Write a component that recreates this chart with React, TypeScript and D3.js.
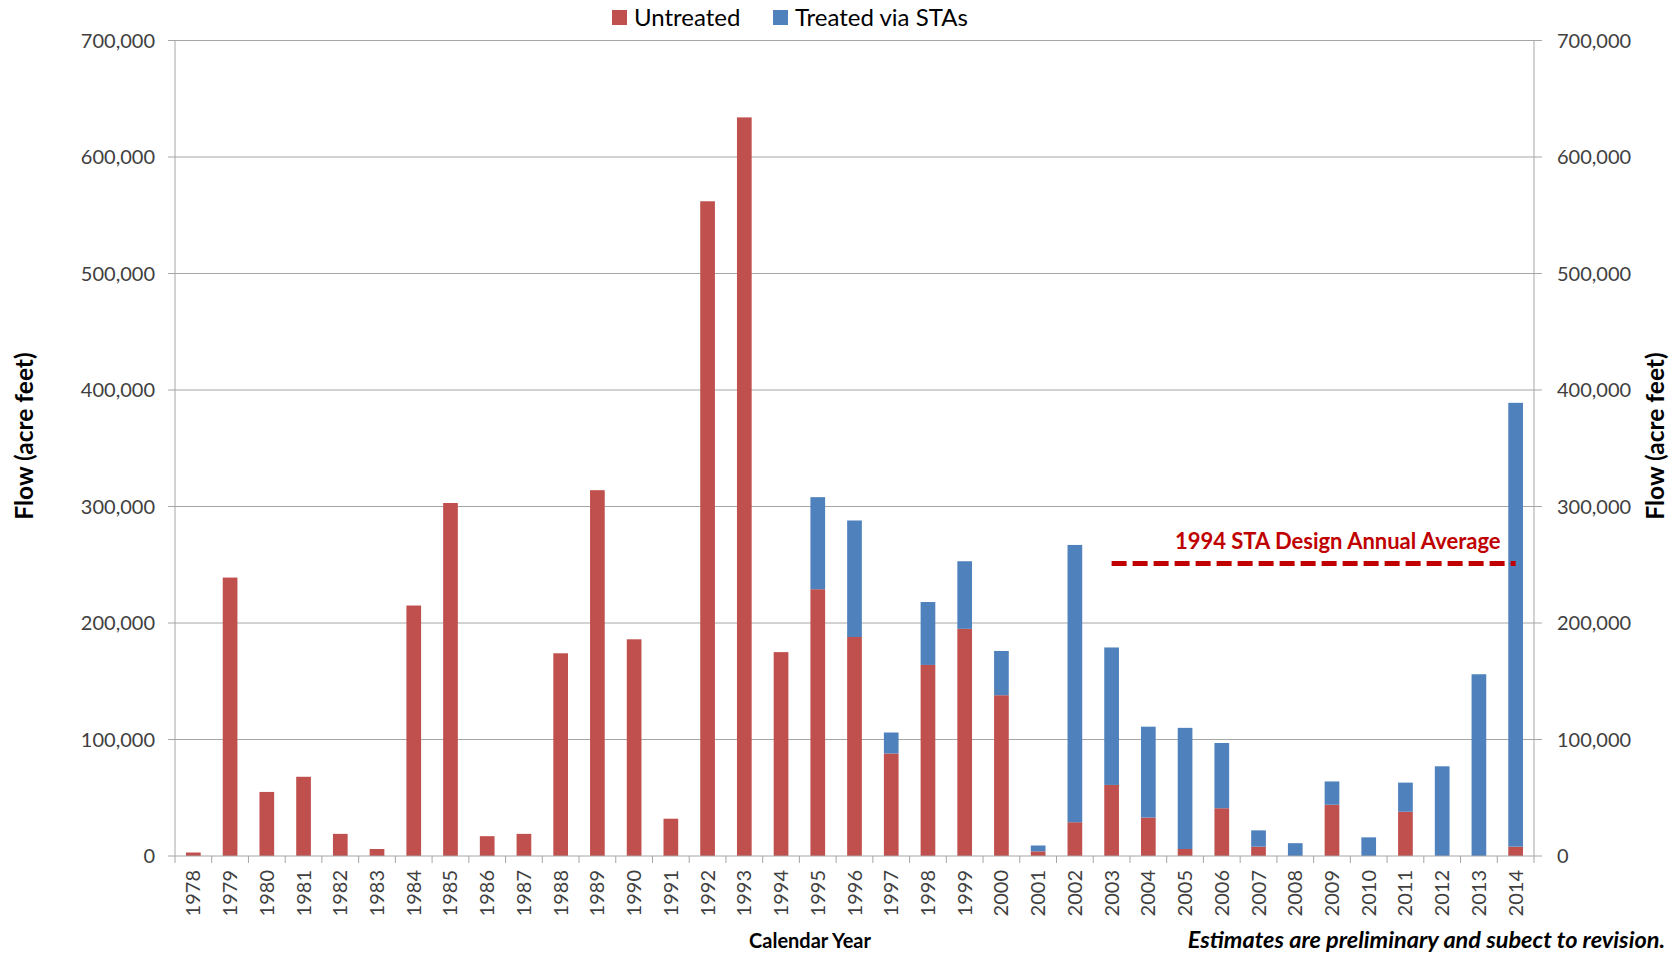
import React, { useEffect, useRef } from 'react';
import * as d3 from 'd3';

const years = [
  '1978', '1979', '1980', '1981', '1982', '1983', '1984', '1985', '1986', '1987',
  '1988', '1989', '1990', '1991', '1992', '1993', '1994', '1995', '1996', '1997',
  '1998', '1999', '2000', '2001', '2002', '2003', '2004', '2005', '2006', '2007',
  '2008', '2009', '2010', '2011', '2012', '2013', '2014',
];
const untreated = [
  3000, 239000, 55000, 68000, 19000, 6000, 215000, 303000, 17000, 19000,
  174000, 314000, 186000, 32000, 562000, 634000, 175000, 229000, 188000, 88000,
  164000, 195000, 138000, 4000, 29000, 61000, 33000, 6000, 41000, 8000,
  0, 44000, 0, 38000, 0, 0, 8000,
];
const treated = [
  0, 0, 0, 0, 0, 0, 0, 0, 0, 0,
  0, 0, 0, 0, 0, 0, 0, 79000, 100000, 18000,
  54000, 58000, 38000, 5000, 238000, 118000, 78000, 104000, 56000, 14000,
  11000, 20000, 16000, 25000, 77000, 156000, 381000,
];
const yTicks = [0, 100000, 200000, 300000, 400000, 500000, 600000, 700000];
const designAverage = 251000;
const designYears = ['2003', '2014'];
const seriesNames = ['Untreated', 'Treated via STAs'];
const colors = ['#c0504d', '#4f81bd'];

const App = () => {
  const svgRef: any = useRef();

  useEffect(() => {
    document.body.style.margin = '0';
    const width = 1673;
    const height = 956;
    const left = 175;
    const right = 1534;
    const font = 'Lato, "Open Sans", sans-serif';

    const svg = d3.select(svgRef.current).attr('width', width).attr('height', height);
    svg.selectAll('*').remove();

    const x = d3.scaleBand().domain(years).range([left, right]).paddingInner(0.6).paddingOuter(0.3);
    const y = d3.scaleLinear().domain([0, 700000]).range([856, 40.5]);
    const step = x.step();

    // gridlines
    svg.append('g')
      .selectAll('line')
      .data(yTicks.slice(1))
      .join('line')
      .attr('x1', left).attr('x2', right)
      .attr('y1', (d) => y(d)).attr('y2', (d) => y(d))
      .attr('stroke', '#a6a6a6').attr('stroke-width', 1);

    // stacked bars
    const data = years.map((yr, i) => ({ year: yr, untreated: untreated[i], treated: treated[i] }));
    const stack = d3.stack<any>().keys(['untreated', 'treated'])(data);
    svg.append('g')
      .selectAll('g')
      .data(stack)
      .join('g')
      .attr('fill', (_d, i) => colors[i])
      .selectAll('rect')
      .data((d) => d)
      .join('rect')
      .attr('x', (d: any) => x(d.data.year) as number)
      .attr('width', x.bandwidth())
      .attr('y', (d) => y(d[1]))
      .attr('height', (d) => y(d[0]) - y(d[1]));

    // axes lines
    svg.append('line').attr('x1', left).attr('x2', left).attr('y1', y(700000)).attr('y2', y(0))
      .attr('stroke', '#a6a6a6');
    svg.append('line').attr('x1', right).attr('x2', right).attr('y1', y(700000)).attr('y2', y(0))
      .attr('stroke', '#a6a6a6');
    svg.append('line').attr('x1', left).attr('x2', right).attr('y1', y(0)).attr('y2', y(0))
      .attr('stroke', '#a6a6a6');

    const fmt = d3.format(',');
    // left axis
    const la = svg.append('g');
    la.selectAll('line').data(yTicks).join('line')
      .attr('x1', left - 7).attr('x2', left).attr('y1', (d) => y(d)).attr('y2', (d) => y(d))
      .attr('stroke', '#a6a6a6');
    la.selectAll('text').data(yTicks).join('text')
      .attr('x', 155).attr('y', (d) => y(d)).attr('dy', '0.35em')
      .attr('text-anchor', 'end').attr('font-family', font).attr('font-size', 20).attr('fill', '#404040')
      .text((d) => fmt(d));
    // right axis
    const ra = svg.append('g');
    ra.selectAll('line').data(yTicks).join('line')
      .attr('x1', right).attr('x2', right + 8).attr('y1', (d) => y(d)).attr('y2', (d) => y(d))
      .attr('stroke', '#a6a6a6');
    ra.selectAll('text').data(yTicks).join('text')
      .attr('x', 1557).attr('y', (d) => y(d)).attr('dy', '0.35em')
      .attr('text-anchor', 'start').attr('font-family', font).attr('font-size', 20).attr('fill', '#404040')
      .text((d) => fmt(d));

    // category ticks
    const bounds = d3.range(years.length + 1).map((i) => left + i * step);
    svg.append('g').selectAll('line').data(bounds).join('line')
      .attr('x1', (d) => d).attr('x2', (d) => d).attr('y1', y(0)).attr('y2', y(0) + 7)
      .attr('stroke', '#a6a6a6');
    svg.append('g').selectAll('text').data(years).join('text')
      .attr('transform', (d) => `translate(${(x(d) as number) + x.bandwidth() / 2 + 7},870) rotate(-90)`)
      .attr('text-anchor', 'end').attr('font-family', font).attr('font-size', 20).attr('fill', '#404040')
      .text((d) => d);

    // design average line
    const dx1 = (x(designYears[0]) as number) + x.bandwidth() / 2;
    const dx2 = (x(designYears[1]) as number) + x.bandwidth() / 2;
    svg.append('line')
      .attr('x1', dx1).attr('x2', dx2).attr('y1', y(designAverage)).attr('y2', y(designAverage))
      .attr('stroke', '#c00000').attr('stroke-width', 5).attr('stroke-dasharray', '15,6');
    svg.append('text')
      .attr('x', dx2 - 15).attr('y', y(designAverage) - 15)
      .attr('text-anchor', 'end').attr('font-family', font).attr('font-weight', 'bold')
      .attr('font-size', 22).attr('fill', '#c00000')
      .text('1994 STA Design Annual Average');

    // axis titles
    svg.append('text')
      .attr('transform', 'translate(33,436) rotate(-90)')
      .attr('text-anchor', 'middle').attr('font-family', font).attr('font-weight', 'bold')
      .attr('font-size', 24.5).attr('fill', '#000')
      .text('Flow (acre feet)');
    svg.append('text')
      .attr('transform', 'translate(1664,436) rotate(-90)')
      .attr('text-anchor', 'middle').attr('font-family', font).attr('font-weight', 'bold')
      .attr('font-size', 24.5).attr('fill', '#000')
      .text('Flow (acre feet)');
    svg.append('text')
      .attr('x', 810).attr('y', 948)
      .attr('text-anchor', 'middle').attr('font-family', font).attr('font-weight', 'bold')
      .attr('font-size', 20).attr('fill', '#000')
      .text('Calendar Year');
    svg.append('text')
      .attr('x', 1665).attr('y', 948)
      .attr('text-anchor', 'end').attr('font-family', font).attr('font-weight', 'bold')
      .attr('font-style', 'italic').attr('font-size', 23.5).attr('fill', '#000')
      .text('Estimates are preliminary and subect to revision.');

    // legend
    const legendX = [612, 773];
    const lg = svg.append('g');
    seriesNames.forEach((name, i) => {
      lg.append('rect').attr('x', legendX[i]).attr('y', 10).attr('width', 15).attr('height', 15)
        .attr('fill', colors[i]);
      lg.append('text').attr('x', legendX[i] + 22).attr('y', 26)
        .attr('font-family', font).attr('font-size', 24).attr('fill', '#000')
        .text(name);
    });
  }, []);

  return <svg ref={svgRef} style={{ display: 'block' }}></svg>;
};

export default App;
